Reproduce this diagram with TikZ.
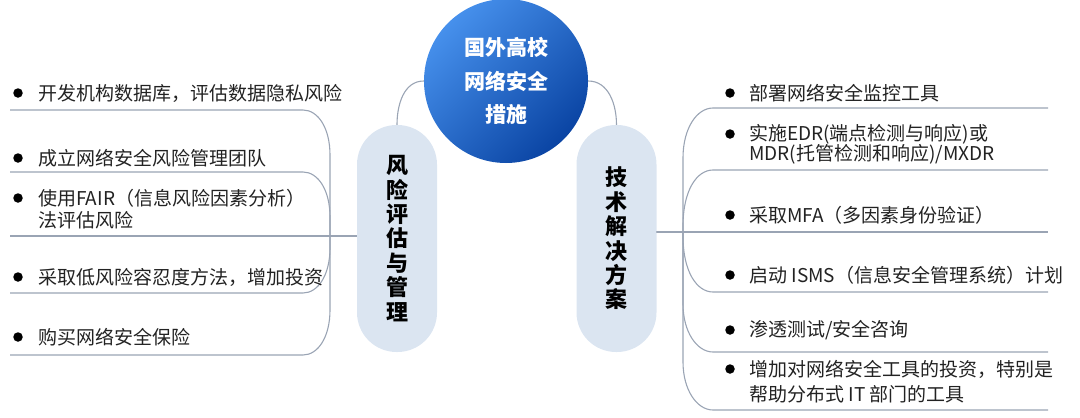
\documentclass[tikz,border=0pt]{standalone}
\usepackage{fontspec}
\setmainfont{Noto Sans CJK SC}
\usetikzlibrary{calc}
\definecolor{linecol}{HTML}{9AA4B4}
\definecolor{pillcol}{HTML}{DBE5F1}
\definecolor{topc}{HTML}{4690EC}
\definecolor{botc}{HTML}{0A44A3}
\definecolor{txt}{HTML}{222222}
\tikzset{
  branch/.style={draw=linecol, line width=1.1pt},
  item/.style={anchor=west, inner sep=0pt, text=txt, align=left, font=\fontsize{19}{21}\selectfont},
  dot/.style={circle, fill=black, inner sep=0pt, minimum size=9.5pt},
  pill/.style={fill=pillcol, rounded corners=39.5pt, minimum width=80pt, minimum height=227pt, inner sep=0pt, align=center, text=black, font=\bfseries\fontsize{22}{24.4}\selectfont},
}
\begin{document}
\begin{tikzpicture}[x=1pt,y=-1pt]
\useasboundingbox (0,0) rectangle (1080,418);
% root
\node[circle, minimum size=164pt, inner sep=0pt, shading=axis, top color=topc, bottom color=botc, shading angle=45, text=white, align=center, font=\bfseries\fontsize{21}{33.5}\selectfont] (root) at (506,81) {国外高校\\网络安全\\措施};
% pills
\node[pill] (pillL) at (397,238.5) {风\\险\\评\\估\\与\\管\\理};
\node[pill] (pillR) at (616.5,238.5) {技\\术\\解\\决\\方\\案};
\draw[branch] (root.west) to[out=180,in=90] (pillL.north);
\draw[branch] (root.east) to[out=0,in=90] (pillR.north);
% trunk junctions
\coordinate (lj) at (330,236);
\coordinate (rj) at (683,232);
% left underlines
\foreach \y/\n in {110/1,172/2,293/4,355/5}{
  \pgfmathsetmacro{\s}{\y<236 ? 1 : -1}
  \pgfmathsetmacro{\ya}{\y+45*\s}
  \pgfmathsetmacro{\yb}{\y+18*\s}
  \draw[branch] (pillL.west |- lj) -- (lj) -- (330,\ya) .. controls (330,\yb) and (318,\y) .. (303,\y) -- (10,\y) coordinate (lu\n);
}
\draw[branch] (pillL.west |- lj) -- (10,236) coordinate (lu3);
% right underlines
\foreach \y/\n/\sp in {108/1/50,170/2/56,292/4/56,352/5/48,410/6/48}{
  \pgfmathsetmacro{\s}{\y<232 ? 1 : -1}
  \pgfmathsetmacro{\ya}{\y+\sp*\s}
  \pgfmathsetmacro{\yb}{\y+20*\s}
  \draw[branch] (pillR.east |- rj) -- (rj) -- (683,\ya) .. controls (683,\yb) and (697,\y) .. (713,\y) -- (1048,\y) coordinate (ru\n);
}
\draw[branch] (pillR.east |- rj) -- (1048,232) coordinate (ru3);
% left items
\node[dot] (lb1) at (18,93) {};
\node[item] (l1) at (38,93) {开发机构数据库，评估数据隐私风险};
\node[dot] (lb2) at (18,158) {};
\node[item] (l2) at (38,158) {成立网络安全风险管理团队};
\node[dot] (lb3) at (18,198) {};
\node[item, font=\fontsize{19}{22.5}\selectfont] (l3) at (38,209) {使用FAIR（信息风险因素分析）\\法评估风险};
\node[dot] (lb4) at (18,277) {};
\node[item] (l4) at (38,277) {采取低风险容忍度方法，增加投资};
\node[dot] (lb5) at (18,337) {};
\node[item] (l5) at (38,337) {购买网络安全保险};
% right items
\node[dot] (rb1) at (730,93) {};
\node[item] (r1) at (749,93) {部署网络安全监控工具};
\node[dot] (rb2) at (730,134) {};
\node[item, font=\fontsize{19}{20}\selectfont] (r2) at (749,144) {实施EDR(端点检测与响应)或\\MDR(托管检测和响应)/MXDR};
\node[dot] (rb3) at (730,215) {};
\node[item] (r3) at (749,215) {采取MFA（多因素身份验证）};
\node[dot] (rb4) at (730,275) {};
\node[item] (r4) at (749,275) {启动 ISMS（信息安全管理系统）计划};
\node[dot] (rb5) at (730,330) {};
\node[item] (r5) at (749,330) {渗透测试/安全咨询};
\node[dot] (rb6) at (730,369) {};
\node[item, font=\fontsize{19}{25}\selectfont] (r6) at (749,381.5) {增加对网络安全工具的投资，特别是\\帮助分布式 IT 部门的工具};
\end{tikzpicture}
\end{document}
